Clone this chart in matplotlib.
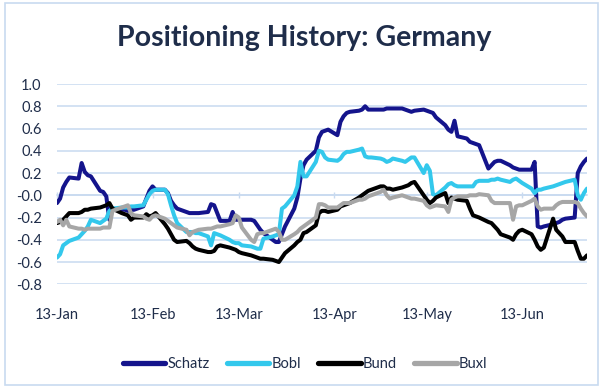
import numpy as np
import pandas as pd
import matplotlib
matplotlib.use('Agg')
import matplotlib.pyplot as plt
import matplotlib.dates as mdates
from matplotlib.patches import Rectangle

# --------------------------------------------------------------------------
# Data: daily positioning readings (business days)
# --------------------------------------------------------------------------
dates = pd.bdate_range('2025-01-13', '2025-07-04')

schatz = [
    -0.07, -0.03, 0.07, 0.12, 0.16,
    0.15, 0.29, 0.21, 0.18, 0.17,
    0.04, 0.03, -0.01, -0.22, -0.12,
    -0.13, -0.13, -0.14, -0.13, -0.13,
    -0.10, -0.03, 0.04, 0.08, 0.05,
    0.05, 0.02, -0.05, -0.09, -0.12,
    -0.15, -0.16, -0.16, -0.16, -0.16,
    -0.15, -0.08, -0.09, -0.16, -0.23,
    -0.23, -0.15, -0.22, -0.22, -0.22,
    -0.22, -0.23, -0.27, -0.31, -0.34,
    -0.40, -0.42, -0.42, -0.35, -0.28,
    -0.12, -0.02, 0.15, 0.27, 0.32,
    0.40, 0.52, 0.57, 0.58, 0.59,
    0.54, 0.66, 0.71, 0.74, 0.75,
    0.76, 0.77, 0.80, 0.77, 0.77,
    0.77, 0.77, 0.78, 0.78, 0.78,
    0.78, 0.77, 0.76, 0.75, 0.76,
    0.77, 0.76, 0.75, 0.74, 0.70,
    0.63, 0.59, 0.57, 0.67, 0.53,
    0.51, 0.48, 0.47, 0.46, 0.45,
    0.24, 0.27, 0.30, 0.31, 0.31,
    0.27, 0.25, 0.24, 0.23, 0.23,
    0.23, 0.30, -0.28, -0.29, -0.28,
    -0.26, -0.25, -0.24, -0.22, -0.21,
    -0.20, 0.20, 0.26, 0.30, 0.33,
]

bobl = [
    -0.56, -0.53, -0.45, -0.43, -0.41,
    -0.38, -0.35, -0.32, -0.28, -0.22,
    -0.25, -0.23, -0.21, -0.14, -0.12,
    -0.11, -0.11, -0.11, -0.10, -0.10,
    -0.09, -0.04, 0.01, 0.04, 0.05,
    0.05, 0.01, -0.09, -0.18, -0.25,
    -0.33, -0.33, -0.33, -0.34, -0.34,
    -0.37, -0.45, -0.34, -0.35, -0.36,
    -0.40, -0.42, -0.43, -0.43, -0.45,
    -0.46, -0.47, -0.48, -0.48, -0.39,
    -0.37, -0.36, -0.35, -0.12, -0.10,
    0.00, 0.08, 0.30, 0.17, 0.17,
    0.30, 0.40, 0.39, 0.34, 0.32,
    0.31, 0.33, 0.37, 0.39, 0.39,
    0.41, 0.42, 0.35, 0.34, 0.34,
    0.33, 0.32, 0.30, 0.31, 0.33,
    0.31, 0.30, 0.32, 0.34, 0.34,
    0.20, 0.27, 0.22, 0.01, 0.00,
    0.07, 0.10, 0.11, 0.09, 0.08,
    0.08, 0.08, 0.08, 0.12, 0.13,
    0.13, 0.14, 0.14, 0.15, 0.14,
    0.12, 0.14, 0.15, 0.13, 0.11,
    0.06, 0.02, 0.05, 0.05, 0.06,
    0.08, 0.09, 0.10, 0.11, 0.12,
    0.14, 0.00, -0.04, 0.02, 0.06,
]

bund = [
    -0.25, -0.24, -0.22, -0.19, -0.16,
    -0.16, -0.15, -0.13, -0.13, -0.12,
    -0.11, -0.10, -0.09, -0.07, -0.12,
    -0.16, -0.17, -0.18, -0.22, -0.20,
    -0.20, -0.17, -0.19, -0.18, -0.16,
    -0.26, -0.30, -0.35, -0.40, -0.42,
    -0.41, -0.43, -0.46, -0.48, -0.49,
    -0.51, -0.51, -0.50, -0.46, -0.45,
    -0.47, -0.48, -0.49, -0.51, -0.52,
    -0.54, -0.55, -0.56, -0.57, -0.57,
    -0.58, -0.59, -0.60, -0.56, -0.52,
    -0.45, -0.42, -0.40, -0.34, -0.33,
    -0.27, -0.16, -0.14, -0.14, -0.15,
    -0.13, -0.10, -0.09, -0.08, -0.07,
    -0.02, 0.00, 0.02, 0.04, 0.05,
    0.08, 0.08, 0.06, 0.06, 0.05,
    0.07, 0.08, 0.09, 0.11, 0.12,
    0.00, -0.04, -0.07, -0.05, -0.02,
    0.02, -0.07, -0.02, -0.03, -0.04,
    -0.05, -0.12, -0.18, -0.19, -0.20,
    -0.24, -0.25, -0.28, -0.31, -0.35,
    -0.38, -0.40, -0.35, -0.32, -0.31,
    -0.35, -0.40, -0.46, -0.49, -0.47,
    -0.21, -0.31, -0.34, -0.37, -0.42,
    -0.42, -0.50, -0.57, -0.57, -0.54,
]

buxl = [
    -0.24, -0.22, -0.27, -0.22, -0.28,
    -0.30, -0.30, -0.31, -0.30, -0.30,
    -0.30, -0.29, -0.29, -0.29, -0.14,
    -0.11, -0.10, -0.09, -0.16, -0.18,
    -0.19, -0.21, -0.22, -0.19, -0.18,
    -0.21, -0.23, -0.25, -0.27, -0.29,
    -0.31, -0.36, -0.33, -0.32, -0.31,
    -0.30, -0.30, -0.29, -0.28, -0.28,
    -0.26, -0.25, -0.18, -0.20, -0.29,
    -0.40, -0.42, -0.35, -0.34, -0.34,
    -0.31, -0.30, -0.33, -0.40, -0.40,
    -0.35, -0.33, -0.30, -0.28, -0.26,
    -0.20, -0.08, -0.08, -0.09, -0.11,
    -0.11, -0.09, -0.07, -0.07, -0.07,
    -0.04, -0.04, -0.03, -0.01, 0.00,
    0.03, 0.05, 0.00, -0.03, -0.02,
    0.00, -0.01, -0.02, -0.03, -0.03,
    -0.05, -0.09, -0.11, -0.10, -0.09,
    -0.10, -0.15, -0.04, -0.02, -0.01,
    -0.01, 0.00, 0.00, 0.00, 0.01,
    0.00, -0.05, -0.07, -0.07, -0.07,
    -0.07, -0.22, -0.10, -0.09, -0.09,
    -0.05, -0.03, -0.10, -0.13, -0.12,
    -0.12, -0.09, -0.07, -0.06, -0.06,
    -0.06, -0.07, -0.12, -0.16, -0.19,
]

series_names = ['Schatz', 'Bobl', 'Bund', 'Buxl']
series_vals = [schatz, bobl, bund, buxl]
colors = ['#14148c', '#33c8ec', '#000000', '#a6a6a6']

y_ticks = np.arange(-0.8, 1.01, 0.2)
x_ticks = pd.to_datetime(['2025-01-13', '2025-02-13', '2025-03-13',
                          '2025-04-13', '2025-05-13', '2025-06-13'])

TEXT = '#1f2d4a'
GRID = '#c8daf0'

plt.rcParams['font.family'] = ['Lato', 'DejaVu Sans']

# --------------------------------------------------------------------------
# Plot
# --------------------------------------------------------------------------
fig = plt.figure(figsize=(6.04, 3.87), dpi=100)
ax = fig.add_axes([57 / 604, 1 - 284.3 / 387, 530 / 604, 200.3 / 387])

for name, vals, c in zip(series_names, series_vals, colors):
    ax.plot(dates, vals, color=c, linewidth=2.9, label=name,
            solid_joinstyle='round', solid_capstyle='round')

ax.set_ylim(-0.8, 1.0)
ax.set_xlim(dates[0], dates[-1])
ax.set_yticks(y_ticks)
ax.set_yticklabels([f'{v:.1f}' for v in y_ticks])
ax.yaxis.grid(True, color=GRID, linewidth=1.1)
ax.set_axisbelow(True)

ax.set_xticks(x_ticks)
ax.xaxis.set_major_formatter(mdates.DateFormatter('%d-%b'))
ax.tick_params(axis='x', length=0, pad=17, labelsize=10.5, labelcolor=TEXT)
ax.tick_params(axis='y', length=0, pad=11, labelsize=10.5, labelcolor=TEXT)
for s in ax.spines.values():
    s.set_visible(False)

# horizontal axis line sits at zero with small tick marks
sec = ax.secondary_xaxis(0.8 / 1.8)
sec.set_xticks(x_ticks)
sec.set_xticklabels([])
sec.tick_params(axis='x', direction='inout', length=5, width=1, color=GRID)
sec.spines['bottom'].set_color(GRID)
sec.spines['bottom'].set_linewidth(1.1)

fig.text(0.503, 0.902, 'Positioning History: Germany', ha='center',
         va='center', fontsize=20.5, fontweight='bold', color=TEXT)

fig.legend(loc='center', bbox_to_anchor=(0.505, 0.059), ncol=4,
           frameon=False, fontsize=10.5, labelcolor=TEXT,
           handlelength=2.9, handletextpad=0.15, columnspacing=1.2)
for line in fig.legends[0].get_lines():
    line.set_linewidth(3.8)

fig.patches.append(Rectangle((5 / 604, 2 / 387), 593 / 604, 382 / 387,
                             transform=fig.transFigure, fill=False,
                             edgecolor=GRID, linewidth=1.2))

plt.savefig('out.png', dpi=100)
plt.close()
